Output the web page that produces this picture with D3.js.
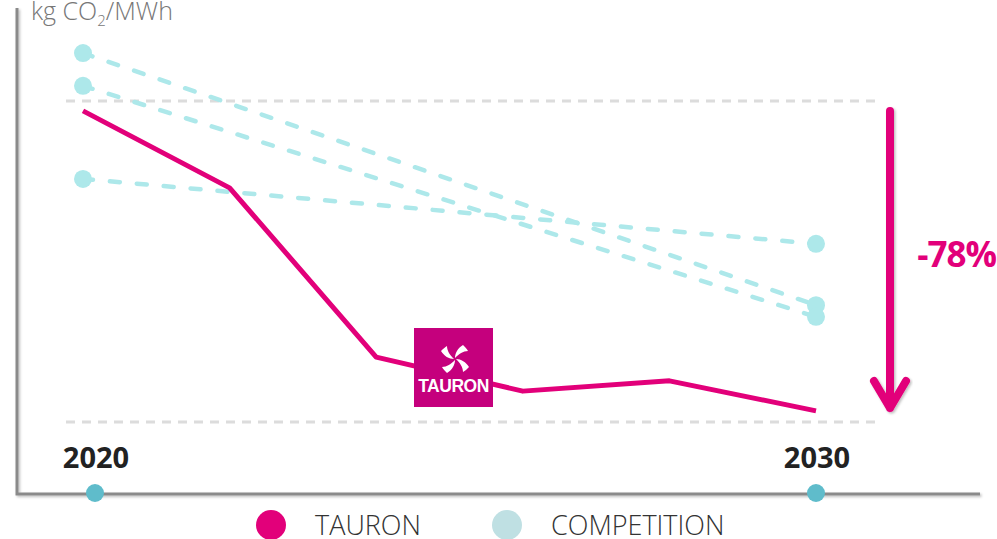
<!DOCTYPE html>
<html>
<head>
<meta charset="utf-8">
<script src="https://cdn.jsdelivr.net/npm/d3@7"></script>
<style>
  html, body { margin: 0; padding: 0; background: #fff; }
  svg { display: block; }
</style>
</head>
<body>
<svg id="chart" width="997" height="539"></svg>
<script>
// ---- data ----
const tauronYears = [2020, 2022, 2024, 2026, 2028, 2030];
const tauronValues = [858, 686, 308, 232, 255, 188];
const competitionStart = [987, 914, 706];   // 2020
const competitionEnd   = [424, 398, 561];   // 2030
const yearTicks = [2020, 2030];
const gridValues = [880, 163];
const unitLabel = "kg CO";
const changeLabel = "-78%";
const legendLabels = ["TAURON", "COMPETITION"];

// ---- styles ----
const MAGENTA = "#e2007a";
const COMP = "#ade8ea";
const COMP_LEGEND = "#bfe0e3";
const TICKDOT = "#5fbccb";
const AXIS = "#8a8a8a";

const svg = d3.select("#chart");
const defs = svg.append("defs");
const sh = defs.append("filter").attr("id", "shadow").attr("x", "-20%").attr("y", "-20%").attr("width", "140%").attr("height", "140%");
sh.append("feDropShadow").attr("dx", 1.5).attr("dy", 1.5).attr("stdDeviation", 1.2).attr("flood-color", "#000").attr("flood-opacity", 0.25);

const x = d3.scaleLinear().domain([2020, 2030]).range([83, 816]);
const xAxisPos = d3.scaleLinear().domain([2020, 2030]).range([95, 816]);
const y = d3.scaleLinear().domain([0, 880]).range([495, 101]);

// gridlines
svg.selectAll(".grid").data(gridValues).enter().append("line")
  .attr("x1", 66).attr("x2", 882)
  .attr("y1", d => y(d)).attr("y2", d => y(d))
  .attr("stroke", "#dcdcdc").attr("stroke-width", 3)
  .attr("stroke-dasharray", "9 7");

// axes lines
const ax = svg.append("g").attr("filter", "url(#shadow)");
ax.append("path")
  .attr("d", `M17,8 L17,494 L980,494`)
  .attr("fill", "none").attr("stroke", AXIS).attr("stroke-width", 3);

// tick dots
svg.selectAll(".tdot").data(yearTicks).enter().append("circle")
  .attr("cx", d => xAxisPos(d)).attr("cy", 493).attr("r", 9).attr("fill", TICKDOT);

// year labels
svg.selectAll(".ylab").data(yearTicks).enter().append("text")
  .attr("x", d => xAxisPos(d) + 1).attr("y", 468)
  .attr("text-anchor", "middle")
  .attr("font-family", "'Open Sans', sans-serif")
  .attr("font-weight", 700).attr("font-size", 29).attr("fill", "#222")
  .text(d => d);

// competition lines
const comp = competitionStart.map((s, i) => [[2020, s], [2030, competitionEnd[i]]]);
const line = d3.line().x(d => x(d[0])).y(d => y(d[1]));
svg.selectAll(".comp").data(comp).enter().append("path")
  .attr("d", line)
  .attr("fill", "none").attr("stroke", COMP).attr("stroke-width", 4.5)
  .attr("stroke-linecap", "round").attr("stroke-dasharray", "10 17");
comp.forEach(c => {
  c.forEach(p => {
    svg.append("circle").attr("cx", x(p[0])).attr("cy", y(p[1])).attr("r", 9).attr("fill", COMP);
  });
});

// tauron line
const tauron = tauronYears.map((yr, i) => [yr, tauronValues[i]]);
svg.append("path").attr("d", line(tauron))
  .attr("fill", "none").attr("stroke", MAGENTA).attr("stroke-width", 5)
  .attr("stroke-linejoin", "round");

// logo box
const logo = svg.append("g").attr("transform", "translate(414,328)");
logo.append("rect").attr("width", 79).attr("height", 79).attr("fill", "#c5007d");
const pin = logo.append("g").attr("transform", "translate(41,31)");
const blade = "M0,-1 C0,-6 3,-11 8,-14 C10,-12 12,-10 13,-8 C8,-8 4,-5 0,-1 Z";
[0, 90, 180, 270].forEach(r => {
  pin.append("path").attr("d", blade).attr("fill", "#fff").attr("transform", `rotate(${r})`);
});
logo.append("text").attr("x", 39.5).attr("y", 64).attr("text-anchor", "middle")
  .attr("font-family", "'Liberation Sans', Arial, sans-serif").attr("font-weight", 700)
  .attr("font-size", 17.5).attr("fill", "#fff").attr("letter-spacing", -0.5).text("TAURON");

// arrow
const ar = svg.append("g").attr("filter", "url(#shadow)");
ar.append("path").attr("d", "M890,111 L890,408 M874,381 L890,408 L906,381")
  .attr("fill", "none").attr("stroke", MAGENTA).attr("stroke-width", 8)
  .attr("stroke-linecap", "round").attr("stroke-linejoin", "round");

svg.append("text").attr("x", 996).attr("y", 267).attr("text-anchor", "end")
  .attr("font-family", "'Open Sans', sans-serif").attr("font-weight", 700)
  .attr("font-size", 35).attr("fill", MAGENTA).attr("letter-spacing", -1).text(changeLabel);

// unit label
const ul = svg.append("text").attr("x", 31).attr("y", 20)
  .attr("font-family", "'Open Sans', sans-serif").attr("font-weight", 300)
  .attr("font-size", 25).attr("fill", "#777");
ul.append("tspan").text(unitLabel);
ul.append("tspan").attr("font-size", 15).attr("dy", 6).text("2");
ul.append("tspan").attr("dy", -6).text("/MWh");

// legend
const legColors = [MAGENTA, COMP_LEGEND];
const legX = [271, 507];
legendLabels.forEach((l, i) => {
  svg.append("circle").attr("cx", legX[i]).attr("cy", 525).attr("r", 15).attr("fill", legColors[i]);
  svg.append("text").attr("x", legX[i] + 44).attr("y", 535)
    .attr("font-family", "'Open Sans', sans-serif").attr("font-weight", 300)
    .attr("font-size", 27).attr("fill", "#333").text(l);
});
</script>
</body>
</html>
